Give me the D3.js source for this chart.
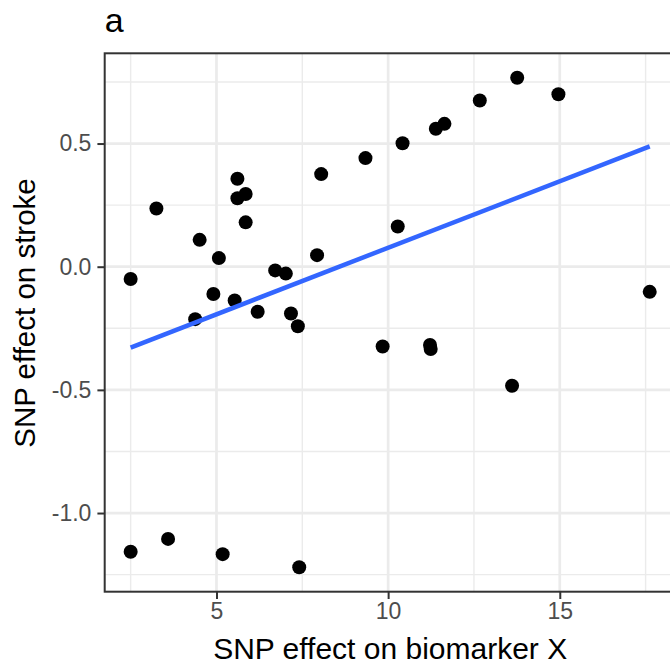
<!DOCTYPE html>
<html>
<head>
<meta charset="utf-8">
<script src="https://cdn.jsdelivr.net/npm/d3@7"></script>
<style>
  html, body { margin: 0; padding: 0; background: #fff; }
  svg { display: block; font-family: "Liberation Sans", Arial, sans-serif; }
</style>
</head>
<body>
<svg id="chart" width="670" height="666"></svg>
<script>
// ---- data ----
const snpBiomarker = [2.50, 3.25, 4.51, 5.07, 4.91, 5.53, 4.38, 5.61, 5.61, 5.85, 5.85, 6.20, 6.71, 7.02, 7.17, 7.37, 7.93, 8.05, 9.34, 10.42, 10.28, 9.84, 11.39, 11.64, 12.67, 13.76, 14.96, 11.22, 11.24, 13.61, 17.62, 2.50, 3.59, 5.18, 7.41];
const snpStroke    = [-0.050, 0.236, 0.109, 0.035, -0.111, -0.137, -0.213, 0.357, 0.278, 0.295, 0.180, -0.183, -0.015, -0.028, -0.190, -0.242, 0.047, 0.376, 0.441, 0.501, 0.163, -0.324, 0.560, 0.580, 0.675, 0.767, 0.700, -0.318, -0.334, -0.483, -0.102, -1.157, -1.105, -1.167, -1.220];
const xTicks = [5, 10, 15];
const yTicks = [-1.0, -0.5, 0.0, 0.5];
const xMinor = [2.5, 7.5, 12.5, 17.5];
const yMinor = [-1.25, -0.75, -0.25, 0.25, 0.75];
const titleText = "a";
const xTitle = "SNP effect on biomarker X";
const yTitle = "SNP effect on stroke";

// ---- layout ----
const svg = d3.select("#chart");
const panel = { left: 104.7, top: 53.3, bottom: 591.7 };
const pts = snpBiomarker.map((x, i) => ({ x, y: snpStroke[i] }));

function expand(ext, f) { const d = ext[1] - ext[0]; return [ext[0] - d * f, ext[1] + d * f]; }
const xDom = expand(d3.extent(snpBiomarker), 0.05);
const yDom = expand(d3.extent(snpStroke), 0.05);
const pxPerX = 34.33;
panel.right = panel.left + (xDom[1] - xDom[0]) * pxPerX;

const x = d3.scaleLinear().domain(xDom).range([panel.left, panel.right]);
const y = d3.scaleLinear().domain(yDom).range([panel.bottom, panel.top]);

// panel background
svg.append("rect").attr("x", panel.left).attr("y", panel.top)
  .attr("width", panel.right - panel.left).attr("height", panel.bottom - panel.top)
  .attr("fill", "#fff");

const grid = svg.append("g");
// minor grid
grid.selectAll(".mx").data(xMinor).join("line")
  .attr("x1", d => x(d)).attr("x2", d => x(d)).attr("y1", panel.top).attr("y2", panel.bottom)
  .attr("stroke", "#EBEBEB").attr("stroke-width", 1.4);
grid.selectAll(".my").data(yMinor).join("line")
  .attr("y1", d => y(d)).attr("y2", d => y(d)).attr("x1", panel.left).attr("x2", panel.right)
  .attr("stroke", "#EBEBEB").attr("stroke-width", 1.4);
// major grid
grid.selectAll(".Mx").data(xTicks).join("line")
  .attr("x1", d => x(d)).attr("x2", d => x(d)).attr("y1", panel.top).attr("y2", panel.bottom)
  .attr("stroke", "#EBEBEB").attr("stroke-width", 2.7);
grid.selectAll(".My").data(yTicks).join("line")
  .attr("y1", d => y(d)).attr("y2", d => y(d)).attr("x1", panel.left).attr("x2", panel.right)
  .attr("stroke", "#EBEBEB").attr("stroke-width", 2.7);

// regression line (OLS over the points, spanning the data range)
const mx = d3.mean(snpBiomarker), my = d3.mean(snpStroke);
const sxy = d3.sum(pts, p => (p.x - mx) * (p.y - my));
const sxx = d3.sum(pts, p => (p.x - mx) ** 2);
const slope = sxy / sxx, intercept = my - slope * mx;
const xr = d3.extent(snpBiomarker);
const linePts = xr.map(v => ({ x: v, y: intercept + slope * v }));

// points
svg.append("g").selectAll("circle").data(pts).join("circle")
  .attr("cx", d => x(d.x)).attr("cy", d => y(d.y)).attr("r", 7).attr("fill", "#000");

svg.append("path").datum(linePts)
  .attr("d", d3.line().x(d => x(d.x)).y(d => y(d.y)))
  .attr("stroke", "#3366FF").attr("stroke-width", 4.5).attr("fill", "none");

// panel border
svg.append("rect").attr("x", panel.left).attr("y", panel.top)
  .attr("width", panel.right - panel.left).attr("height", panel.bottom - panel.top)
  .attr("fill", "none").attr("stroke", "#333333").attr("stroke-width", 2);

// axes
const xAxis = svg.append("g").attr("transform", `translate(0,${panel.bottom})`)
  .call(d3.axisBottom(x).tickValues(xTicks).tickFormat(d3.format("d")).tickSize(7.3).tickPadding(4));
const yAxis = svg.append("g").attr("transform", `translate(${panel.left},0)`)
  .call(d3.axisLeft(y).tickValues(yTicks).tickFormat(d3.format(".1f")).tickSize(7.3).tickPadding(6));
[xAxis, yAxis].forEach(a => {
  a.select(".domain").remove();
  a.selectAll(".tick line").attr("stroke", "#333333").attr("stroke-width", 2);
  a.selectAll(".tick text").attr("fill", "#4D4D4D").style("font-size", "23px")
    .style("font-family", "'Liberation Sans', Arial, sans-serif");
});
yAxis.selectAll(".tick text").text(d => d3.format(".1f")(d).replace("−", "-"));

// titles
svg.append("text").attr("x", (panel.left + panel.right) / 2).attr("y", 659)
  .attr("text-anchor", "middle").style("font-size", "30px").attr("fill", "#000").text(xTitle);
svg.append("text").attr("transform", `translate(35,313) rotate(-90)`)
  .attr("text-anchor", "middle").style("font-size", "29.5px").attr("fill", "#000").text(yTitle);
svg.append("text").attr("x", panel.left).attr("y", 32)
  .style("font-size", "34px").attr("fill", "#000").text(titleText);
</script>
</body>
</html>
